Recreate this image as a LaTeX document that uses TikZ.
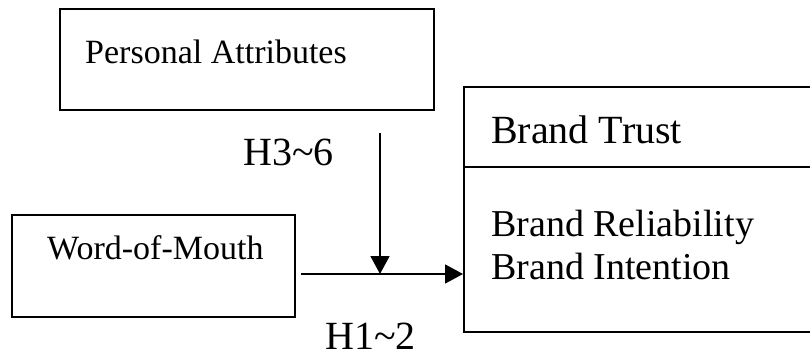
\documentclass[tikz,border=0pt]{standalone}
\usepackage{fontspec}
\setmainfont{Liberation Serif}
\usetikzlibrary{arrows.meta}

\begin{document}
\begin{tikzpicture}[x=1pt,y=-1pt]
\tikzstyle{box}=[rectangle, draw, line width=2pt, inner sep=0pt]
\tikzstyle{smalltxt}=[inner sep=0pt, anchor=base west, font=\fontsize{34}{40}\selectfont]
\tikzstyle{bigtxt}=[inner sep=0pt, anchor=base west, font=\fontsize{40}{46}\selectfont]
\tikzstyle{bodytxt}=[inner sep=0pt, anchor=base west, font=\fontsize{38}{43}\selectfont]
\tikzstyle{arrow}=[line width=1.8pt, -{Triangle[length=18pt,width=19pt]}]

\useasboundingbox (0,0) rectangle (810,358);
\clip (0,0) rectangle (810,358);

\node[box, minimum width=374pt, minimum height=101pt] (pa) at (247,59.5) {};
\node[box, minimum width=283pt, minimum height=102pt] (wom) at (153.5,266) {};
\node[box, minimum width=376pt, minimum height=80pt] (bt) at (652,127) {};
\node[box, minimum width=376pt, minimum height=165pt] (body) at (652,249.5) {};

\node[smalltxt] (patxt) at ([shift={(26,56)}]pa.north west) {Personal Attributes};
\node[smalltxt] (womtxt) at ([shift={(36,45)}]wom.north west) {Word-of-Mouth};
\node[bigtxt] (bttxt) at ([shift={(28,58)}]bt.north west) {Brand Trust};
\node[bodytxt] (rel) at ([shift={(28,70)}]body.north west) {Brand Reliability};
\node[bodytxt] (int) at ([shift={(0,43)}]rel.base west) {Brand Intention};

\node[bigtxt] (h36) at (243,165) {H3\textasciitilde6};
\node[bigtxt, text depth=0pt] (h12) at (325,349) {H1\textasciitilde2};

\coordinate (j) at (380,274);
\draw[arrow, shorten <=5pt] (wom.east |- j) -- (body.west |- j);
\draw[arrow, shorten <=22pt] (pa.south -| j) -- (j);
\end{tikzpicture}
\end{document}
